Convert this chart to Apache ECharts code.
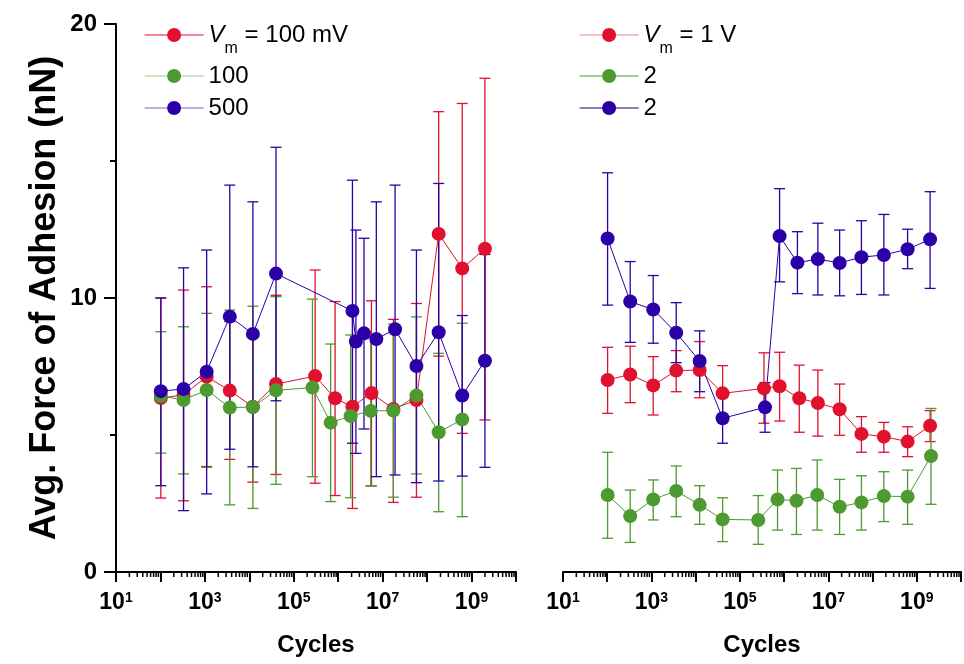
<!DOCTYPE html>
<html>
<head>
<meta charset="utf-8">
<script src="https://cdn.jsdelivr.net/npm/echarts@6/dist/echarts.min.js"></script>
<style>html,body{margin:0;padding:0;background:#fff}#c{width:964px;height:664px}</style>
</head>
<body>
<div id="c"></div>
<script>
// ---------- DATA ----------
// Left panel (Vm = 100 mV)
const leftRedX  = [102, 331, 1096, 3631, 12023, 39811, 3.02e5, 8.5e5, 2.09e6, 5.6e6, 1.74e7, 5.75e7, 1.82e8, 6.17e8, 2.0e9];
const leftRedY  = [6.35, 6.46, 7.13, 6.62, 6.03, 6.86, 7.15, 6.34, 6.03, 6.53, 5.95, 6.28, 12.34, 11.08, 11.8];
const leftRedLo = [2.7, 2.6, 3.85, 4.11, 3.28, 3.56, 3.24, 2.79, 2.32, 3.14, 2.54, 2.73, 7.88, 5.06, 5.55];
const leftRedHi = [10.0, 10.29, 10.41, 9.14, 8.8, 10.1, 11.02, 9.87, 9.68, 9.9, 9.22, 9.8, 16.8, 17.1, 18.02];

const leftGreenX  = [102, 331, 1096, 3631, 12023, 39811, 2.63e5, 6.76e5, 1.9e6, 5.4e6, 1.74e7, 5.75e7, 1.82e8, 6.17e8];
const leftGreenY  = [6.42, 6.28, 6.64, 6.0, 6.02, 6.63, 6.73, 5.45, 5.69, 5.88, 5.89, 6.44, 5.1, 5.57];
const leftGreenLo = [4.34, 3.58, 3.82, 2.45, 2.32, 3.2, 3.48, 2.57, 2.71, 3.14, 2.73, 3.58, 2.2, 2.02];
const leftGreenHi = [8.77, 8.95, 9.44, 9.56, 9.7, 10.05, 9.96, 8.32, 8.65, 8.57, 9.05, 9.31, 7.98, 9.08];

const leftBlueX  = [102, 331, 1096, 3631, 12023, 39811, 2.09e6, 2.5e6, 3.8e6, 7.2e6, 1.9e7, 5.75e7, 1.82e8, 6.17e8, 2.0e9];
const leftBlueY  = [6.6, 6.68, 7.31, 9.32, 8.69, 10.89, 9.53, 8.41, 8.71, 8.5, 8.86, 7.52, 8.75, 6.44, 7.71];
const leftBlueLo = [3.15, 2.24, 2.85, 4.48, 3.84, 6.25, 4.7, 4.33, 5.22, 3.48, 3.54, 3.26, 3.32, 3.5, 3.82];
const leftBlueHi = [10.0, 11.1, 11.75, 14.12, 13.51, 15.5, 14.3, 12.48, 12.18, 13.51, 14.12, 11.75, 14.18, 9.36, 11.59];

// Right panel (Vm = 1 V)
const rightRedX  = [102, 331, 1096, 3631, 12300, 40700, 3.5e5, 7.9e5, 2.2e6, 5.8e6, 1.8e7, 5.6e7, 1.8e8, 6.2e8, 2.0e9];
const rightRedY  = [7.01, 7.21, 6.81, 7.35, 7.37, 6.52, 6.7, 6.78, 6.34, 6.17, 5.94, 5.04, 4.94, 4.76, 5.34];
const rightRedLo = [5.79, 6.18, 5.73, 6.58, 6.36, 5.46, 5.43, 5.51, 5.1, 4.96, 4.99, 4.37, 4.37, 4.21, 4.76];
const rightRedHi = [8.2, 8.24, 7.86, 8.08, 8.41, 7.53, 8.0, 8.02, 7.55, 7.37, 6.86, 5.67, 5.46, 5.3, 5.89];

const rightGreenX  = [102, 331, 1096, 3631, 12300, 40700, 2.6e5, 7.1e5, 1.9e6, 5.6e6, 1.8e7, 5.6e7, 1.8e8, 6.2e8, 2.1e9];
const rightGreenY  = [2.81, 2.04, 2.65, 2.96, 2.45, 1.92, 1.9, 2.65, 2.6, 2.81, 2.38, 2.54, 2.77, 2.75, 4.23];
const rightGreenLo = [1.23, 1.08, 1.9, 2.02, 1.74, 1.11, 1.01, 1.53, 1.37, 1.53, 1.37, 1.53, 1.84, 1.74, 2.47];
const rightGreenHi = [4.37, 2.99, 3.36, 3.87, 3.15, 2.71, 2.79, 3.72, 3.78, 4.09, 3.38, 3.51, 3.66, 3.72, 5.97];

const rightBlueX  = [102, 331, 1096, 3631, 12300, 40700, 3.7e5, 7.9e5, 2.0e6, 5.8e6, 1.8e7, 5.6e7, 1.8e8, 6.2e8, 2.0e9];
const rightBlueY  = [12.17, 9.87, 9.58, 8.73, 7.7, 5.61, 6.01, 12.26, 11.29, 11.42, 11.28, 11.49, 11.57, 11.78, 12.14];
const rightBlueLo = [9.74, 8.38, 8.35, 7.64, 6.58, 4.7, 5.1, 10.59, 10.16, 10.11, 10.08, 10.13, 10.11, 11.07, 10.35];
const rightBlueHi = [14.57, 11.33, 10.82, 9.83, 8.8, 6.52, 6.91, 13.99, 12.42, 12.73, 12.48, 12.82, 13.05, 12.51, 13.88];

// Axis / legend text
const xLabelExponents = [1, 3, 5, 7, 9];
const yTicks = [0, 10, 20];
const minorTickMultipliers = [2, 3, 4, 5, 6, 7, 8, 9];
const minorTickDecades = [1, 2, 3, 4, 5, 6, 7, 8, 9];
const leftLegendText  = ['{i|V}{sub|m}{t| = 100 mV}', '{t|100}', '{t|500}'];
const rightLegendText = ['{i|V}{sub|m}{t| = 1 V}', '{t|2}', '{t|2}'];
const xAxisTitle = 'Cycles';
const yAxisTitle = 'Avg. Force of Adhesion (nN)';

// ---------- STYLE ----------
const RED = '#E0102F', GREEN = '#4C9A30', BLUE = '#2B00A6';
const FONT = 'Liberation Sans, Arial, sans-serif';

const minorTicks = [];
minorTickDecades.forEach(d => minorTickMultipliers.forEach(m => minorTicks.push([m * Math.pow(10, d), 0])));

function zip(x, y) { return x.map((v, i) => [v, y[i]]); }
function zip3(x, lo, hi) { return x.map((v, i) => [v, lo[i], hi[i]]); }

function errSeries(gi, x, lo, hi, color) {
  return {
    type: 'custom', xAxisIndex: gi, yAxisIndex: gi, z: 1, silent: true,
    data: zip3(x, lo, hi),
    encode: { x: 0, y: [1, 2] },
    renderItem: function (params, api) {
      const xv = api.value(0);
      const pHi = api.coord([xv, api.value(2)]);
      const pLo = api.coord([xv, api.value(1)]);
      const hw = 5.5;
      const st = { stroke: color, lineWidth: 1.3, fill: null };
      return { type: 'group', children: [
        { type: 'line', shape: { x1: pHi[0], y1: pHi[1], x2: pLo[0], y2: pLo[1] }, style: st },
        { type: 'line', shape: { x1: pHi[0] - hw, y1: pHi[1], x2: pHi[0] + hw, y2: pHi[1] }, style: st },
        { type: 'line', shape: { x1: pLo[0] - hw, y1: pLo[1], x2: pLo[0] + hw, y2: pLo[1] }, style: st }
      ]};
    }
  };
}
function lineSeries(gi, name, x, y, color) {
  return {
    type: 'line', name: name, xAxisIndex: gi, yAxisIndex: gi, z: 3,
    data: zip(x, y), symbol: 'circle', symbolSize: 14,
    itemStyle: { color: color }, lineStyle: { color: color, width: 1 },
    animation: false
  };
}
function minorTickSeries(gi) {
  return {
    type: 'custom', xAxisIndex: gi, yAxisIndex: gi, silent: true, clip: false, z: 5,
    data: minorTicks, encode: { x: 0, y: 1 },
    renderItem: function (params, api) {
      const p = api.coord([api.value(0), 0]);
      return { type: 'line', shape: { x1: p[0], y1: p[1], x2: p[0], y2: p[1] + 5 }, style: { stroke: '#000', lineWidth: 1.5 } };
    }
  };
}
function xAxis(gi) {
  return {
    type: 'log', logBase: 10, min: 10, max: 1e10, gridIndex: gi,
    name: xAxisTitle, nameLocation: 'middle', nameGap: 61,
    nameTextStyle: { fontFamily: FONT, fontSize: 24, fontWeight: 'bold', color: '#000' },
    axisLine: { show: true, onZero: false, lineStyle: { color: '#000', width: 2 } },
    axisTick: { show: true, length: 10, lineStyle: { color: '#000', width: 2 } },
    splitLine: { show: false }, minorTick: { show: false },
    axisLabel: {
      interval: 0, margin: 19, showMinLabel: true, showMaxLabel: true,
      formatter: function (v) {
        const e = Math.round(Math.log10(v));
        return xLabelExponents.indexOf(e) >= 0 ? '{b|10}{s|' + e + '}' : '';
      },
      rich: {
        b: { fontFamily: FONT, fontSize: 23, fontWeight: 'bold', color: '#000' },
        s: { fontFamily: FONT, fontSize: 14, fontWeight: 'bold', color: '#000', verticalAlign: 'top' }
      }
    }
  };
}
const legendRich = {
  i: { fontFamily: FONT, fontSize: 24, fontStyle: 'italic', color: '#000', lineHeight: 24 },
  sub: { fontFamily: FONT, fontSize: 16, color: '#000', lineHeight: 44, verticalAlign: 'bottom' },
  t: { fontFamily: FONT, fontSize: 24, color: '#000', lineHeight: 24 }
};
function legendItem(left, top, name, text, lineColor) {
  return {
    orient: 'vertical', left: left, top: top, itemWidth: 59, itemHeight: 17.5, itemGap: 0,
    data: [{ name: name, lineStyle: { color: lineColor, width: 1.2 } }],
    formatter: function () { return text; },
    textStyle: { fontFamily: FONT, fontSize: 24, color: '#000', rich: legendRich }
  };
}

const leftNames = ['L100mV', 'L100', 'L500'];
const rightNames = ['R1V', 'R2a', 'R2b'];
const legendTops = [18, 59, 91];
const leftLegendLine = [RED, '#9CCB8A', '#7A62D0'];
const rightLegendLine = ['#EE7C8E', GREEN, '#1A0080'];

const legends = [];
leftNames.forEach((n, i) => legends.push(legendItem(139, legendTops[i], n, leftLegendText[i], leftLegendLine[i])));
rightNames.forEach((n, i) => legends.push(legendItem(574, legendTops[i], n, rightLegendText[i], rightLegendLine[i])));

const option = {
  backgroundColor: '#fff',
  animation: false,
  grid: [
    { left: 116, top: 24, width: 400, height: 548 },
    { left: 563, top: 24, width: 401, height: 548 }
  ],
  xAxis: [xAxis(0), xAxis(1)],
  yAxis: [
    {
      type: 'value', gridIndex: 0, min: 0, max: 20, interval: 10,
      name: yAxisTitle, nameLocation: 'middle', nameGap: 53,
      nameTextStyle: { fontFamily: FONT, fontSize: 36, fontWeight: 'bold', color: '#000' },
      axisLine: { show: true, lineStyle: { color: '#000', width: 2 } },
      axisTick: { show: true, length: 12, lineStyle: { color: '#000', width: 2 } },
      minorTick: { show: true, splitNumber: 2, length: 6, lineStyle: { color: '#000', width: 2 } },
      splitLine: { show: false },
      axisLabel: { margin: 19, fontFamily: FONT, fontSize: 24, fontWeight: 'bold', color: '#000',
        formatter: function (v) { return yTicks.indexOf(v) >= 0 ? String(v) : ''; } }
    },
    { type: 'value', gridIndex: 1, min: 0, max: 20, interval: 10, show: false }
  ],
  legend: legends,
  series: [
    errSeries(0, leftRedX, leftRedLo, leftRedHi, RED),
    errSeries(0, leftGreenX, leftGreenLo, leftGreenHi, GREEN),
    errSeries(0, leftBlueX, leftBlueLo, leftBlueHi, BLUE),
    lineSeries(0, 'L100mV', leftRedX, leftRedY, RED),
    lineSeries(0, 'L100', leftGreenX, leftGreenY, GREEN),
    lineSeries(0, 'L500', leftBlueX, leftBlueY, BLUE),
    errSeries(1, rightRedX, rightRedLo, rightRedHi, RED),
    errSeries(1, rightGreenX, rightGreenLo, rightGreenHi, GREEN),
    errSeries(1, rightBlueX, rightBlueLo, rightBlueHi, BLUE),
    lineSeries(1, 'R1V', rightRedX, rightRedY, RED),
    lineSeries(1, 'R2a', rightGreenX, rightGreenY, GREEN),
    lineSeries(1, 'R2b', rightBlueX, rightBlueY, BLUE),
    minorTickSeries(0),
    minorTickSeries(1)
  ]
};
const chart = echarts.init(document.getElementById('c'), null, { renderer: 'canvas' });
chart.setOption(option);
</script>
</body>
</html>
